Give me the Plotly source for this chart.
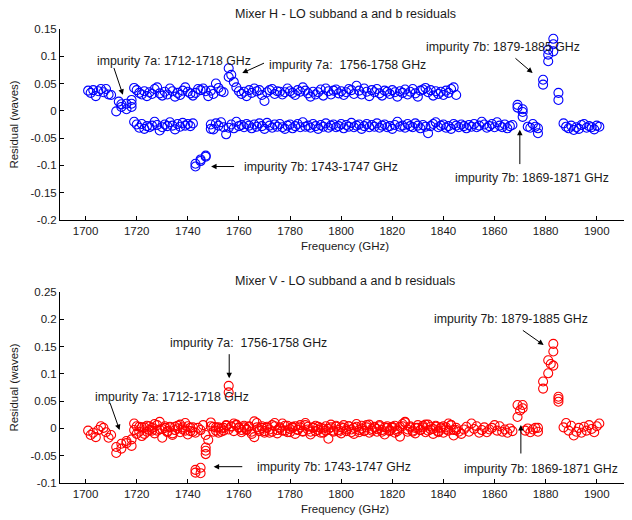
import plotly.graph_objects as go

# ---------------- Mixer H (top) ----------------
h_a_freq = [1701, 1702, 1703, 1704, 1705, 1706, 1707, 1708, 1709, 1710,
            1712, 1713, 1714, 1714, 1716, 1716, 1718, 1718, 1718,
            1719, 1720, 1721, 1722, 1723, 1724, 1725, 1726, 1727, 1728,
            1729, 1730, 1731, 1732, 1733, 1734, 1735, 1736, 1737, 1738,
            1739, 1740, 1741, 1742, 1743, 1744, 1745, 1746, 1747, 1748,
            1749, 1750, 1751, 1752, 1753, 1754,
            1756, 1756, 1757, 1758,
            1759, 1760, 1761, 1762, 1763, 1764, 1765, 1766, 1767, 1768,
            1769, 1770, 1771, 1772, 1773, 1774, 1775, 1776, 1777, 1778,
            1779, 1780, 1781, 1782, 1783, 1784, 1785, 1786, 1787, 1788,
            1789, 1790, 1791, 1792, 1793, 1794, 1795, 1796, 1797, 1798,
            1799, 1800, 1801, 1802, 1803, 1804, 1805, 1806, 1807, 1808,
            1809, 1810, 1811, 1812, 1813, 1814, 1815, 1816, 1817, 1818,
            1819, 1820, 1821, 1822, 1823, 1824, 1825, 1826, 1827, 1828,
            1829, 1830, 1831, 1832, 1833, 1834, 1835, 1836, 1837, 1838,
            1839, 1840, 1841, 1842, 1843, 1844, 1845]
h_a_res = [0.037, 0.033, 0.038, 0.027, 0.036, 0.040, 0.034, 0.040, 0.030, 0.029,
           -0.001, 0.017, 0.007, 0.012, 0.003, 0.013, 0.020, 0.007, 0.013,
           0.042, 0.038, 0.033, 0.030, 0.036, 0.027, 0.034, 0.031, 0.040, 0.043,
           0.032, 0.028, 0.035, 0.030, 0.041, 0.036, 0.026, 0.033, 0.029, 0.037,
           0.043, 0.035, 0.032, 0.028, 0.033, 0.040, 0.038, 0.041, 0.036, 0.027,
           0.037, 0.031, 0.050, 0.042, 0.036, 0.034,
           0.078, 0.062, 0.066, 0.053,
           0.043, 0.036, 0.031, 0.035, 0.027, 0.038, 0.033, 0.041, 0.036, 0.038,
           0.029, 0.018, 0.034, 0.038, 0.040, 0.031, 0.036, 0.035, 0.030, 0.034,
           0.041, 0.036, 0.033, 0.029, 0.038, 0.035, 0.043, 0.037, 0.032, 0.026,
           0.035, 0.030, 0.034, 0.039, 0.028, 0.041, 0.036, 0.030, 0.037, 0.039,
           0.032, 0.036, 0.029, 0.034, 0.040, 0.038, 0.031, 0.046, 0.037, 0.030,
           0.041, 0.035, 0.027, 0.038, 0.034, 0.040, 0.032, 0.028, 0.037, 0.035,
           0.031, 0.038, 0.034, 0.026, 0.036, 0.033, 0.039, 0.030, 0.035, 0.040,
           0.032, 0.026, 0.037, 0.039, 0.042, 0.034, 0.038, 0.028, 0.036, 0.031,
           0.035, 0.029, 0.037, 0.033, 0.040, 0.043, 0.029]

h_b_freq = [1719, 1720, 1721, 1722, 1723, 1724, 1725, 1726, 1727, 1728,
            1729, 1730, 1731, 1732, 1733, 1734, 1735, 1736, 1737, 1738,
            1739, 1740, 1741, 1742,
            1743, 1743, 1745, 1745, 1747, 1747,
            1749, 1749, 1750, 1751, 1752, 1753, 1754, 1755, 1756, 1757, 1758,
            1759, 1760, 1761, 1762, 1763, 1764, 1765, 1766, 1767, 1768,
            1769, 1770, 1771, 1772, 1773, 1774, 1775, 1776, 1777, 1778,
            1779, 1780, 1781, 1782, 1783, 1784, 1785, 1786, 1787, 1788,
            1789, 1790, 1791, 1792, 1793, 1794, 1795, 1796, 1797, 1798,
            1799, 1800, 1801, 1802, 1803, 1804, 1805, 1806, 1807, 1808,
            1809, 1810, 1811, 1812, 1813, 1814, 1815, 1816, 1817, 1818,
            1819, 1820, 1821, 1822, 1823, 1824, 1825, 1826, 1827, 1828,
            1829, 1830, 1831, 1832, 1833, 1834, 1835, 1836, 1837, 1838,
            1839, 1840, 1841, 1842, 1843, 1844, 1845, 1846, 1847, 1848,
            1849, 1850, 1851, 1852, 1853, 1854, 1855, 1856, 1857, 1858,
            1859, 1860, 1861, 1862, 1863, 1864, 1865, 1866, 1867,
            1869, 1869, 1871, 1871, 1871,
            1873, 1874, 1875, 1876, 1877, 1877,
            1879, 1879, 1881, 1881, 1881, 1883, 1883, 1883,
            1885, 1885,
            1887, 1888, 1889, 1890, 1891, 1892, 1893, 1894, 1895, 1896,
            1897, 1898, 1899, 1900, 1901]
h_b_res = [-0.020, -0.025, -0.031, -0.024, -0.033, -0.028, -0.030, -0.027, -0.020, -0.026,
           -0.036, -0.030, -0.025, -0.028, -0.021, -0.027, -0.034, -0.024, -0.029, -0.022,
           -0.027, -0.024, -0.028, -0.023,
           -0.102, -0.097, -0.092, -0.089, -0.084, -0.082,
           -0.025, -0.033, -0.034, -0.023, -0.027, -0.021, -0.030, -0.043, -0.031, -0.025, -0.032,
           -0.020, -0.028, -0.026, -0.030, -0.024, -0.027, -0.032, -0.025, -0.029, -0.023,
           -0.028, -0.033, -0.022, -0.027, -0.031, -0.025, -0.029, -0.024, -0.030, -0.033,
           -0.027, -0.025, -0.032, -0.028, -0.024, -0.030, -0.021, -0.029, -0.027, -0.031,
           -0.024, -0.028, -0.033, -0.026, -0.029, -0.023, -0.031, -0.027, -0.025, -0.030,
           -0.028, -0.024, -0.032, -0.026, -0.029, -0.022, -0.030, -0.027, -0.025, -0.033,
           -0.028, -0.024, -0.030, -0.026, -0.029, -0.023, -0.031, -0.027, -0.025, -0.030,
           -0.028, -0.033, -0.026, -0.020, -0.029, -0.027, -0.031, -0.024, -0.028, -0.030,
           -0.023, -0.027, -0.032, -0.026, -0.029, -0.041, -0.028, -0.024, -0.021, -0.030,
           -0.027, -0.025, -0.031, -0.028, -0.033, -0.024, -0.027, -0.030, -0.025, -0.028,
           -0.032, -0.026, -0.029, -0.024, -0.030, -0.027, -0.020, -0.025, -0.031, -0.028,
           -0.024, -0.030, -0.021, -0.027, -0.030, -0.025, -0.032, -0.028, -0.026,
           0.011, 0.006, 0.003, -0.002, -0.011,
           -0.029, -0.031, -0.024, -0.029, -0.032, -0.041,
           0.057, 0.048, 0.103, 0.091, 0.112, 0.132, 0.122, 0.109,
           0.033, 0.020,
           -0.023, -0.029, -0.032, -0.027, -0.035, -0.030, -0.033, -0.026, -0.024, -0.031,
           -0.028, -0.030, -0.034, -0.027, -0.029]

# ---------------- Mixer V (bottom) ----------------
v_a_freq = [1701, 1702, 1703, 1704, 1705, 1706, 1707, 1708, 1709, 1710,
            1712, 1712, 1714, 1714, 1716, 1716, 1718, 1718,
            1719, 1720, 1721, 1722, 1723, 1724, 1725, 1726, 1727, 1728,
            1729, 1730, 1731, 1732, 1733, 1734, 1735, 1736, 1737, 1738,
            1739, 1740, 1741, 1742, 1743, 1744, 1745, 1746, 1747, 1748,
            1749, 1750, 1751, 1752, 1753, 1754, 1755,
            1756, 1756,
            1757, 1758, 1759, 1760, 1761, 1762, 1763, 1764, 1765, 1766,
            1767, 1768, 1769, 1770, 1771, 1772, 1773, 1774, 1775, 1776,
            1777, 1778, 1779, 1780, 1781, 1782, 1783, 1784, 1785, 1786,
            1787, 1788, 1789, 1790, 1791, 1792, 1793, 1794, 1795, 1796,
            1797, 1798, 1799, 1800, 1801, 1802, 1803, 1804, 1805, 1806,
            1807, 1808, 1809, 1810, 1811, 1812, 1813, 1814, 1815, 1816,
            1817, 1818, 1819, 1820, 1821, 1822, 1823, 1824, 1825, 1826,
            1827, 1828, 1829, 1830, 1831, 1832, 1833, 1834, 1835, 1836,
            1837, 1838, 1839, 1840, 1841, 1842, 1843, 1844, 1845]
v_a_res = [-0.004, -0.012, -0.008, -0.016, -0.003, 0.004, 0.001, -0.007, -0.017, -0.012,
           -0.034, -0.045, -0.028, -0.037, -0.023, -0.027, -0.032, -0.020,
           0.009, 0.004, -0.006, 0.002, -0.010, 0.005, -0.003, 0.001, 0.008, -0.004,
           0.012, -0.001, 0.004, -0.007, 0.002, -0.009, 0.003, 0.000, 0.007, -0.002,
           0.010, 0.004, -0.005, 0.002, -0.008, 0.001, -0.003, 0.006, -0.012, -0.021,
           0.011, 0.003, -0.004, 0.002, -0.006, 0.001, 0.005,
           0.078, 0.066,
           0.004, 0.009, 0.006, 0.002, -0.003, 0.005, -0.001, 0.003, -0.006, 0.013,
           0.010, -0.002, 0.004, -0.005, 0.001, -0.008, 0.006, 0.010, -0.003, 0.002,
           0.009, -0.004, 0.005, -0.007, 0.001, 0.004, -0.002, 0.006, -0.005, 0.010,
           0.003, -0.006, 0.002, 0.005, -0.003, 0.001, -0.008, 0.004, -0.001, 0.007,
           -0.004, 0.003, -0.006, 0.002, 0.006, -0.002, 0.004, -0.007, 0.001, 0.008,
           -0.003, 0.005, -0.005, 0.002, 0.007, -0.004, 0.003, -0.001, 0.006, -0.006,
           0.002, 0.004, -0.003, 0.001, 0.005, -0.005, 0.003, 0.008, 0.011, -0.002,
           0.004, -0.006, 0.001, 0.006, -0.003, 0.002, 0.007, -0.004, 0.003, -0.001,
           0.005, -0.007, 0.002, 0.004, -0.002, 0.009, 0.006, -0.003, 0.001]

v_b_freq = [1719, 1720, 1721, 1722, 1723, 1724, 1725, 1726, 1727, 1728,
            1729, 1730, 1731, 1732, 1733, 1734, 1735, 1736, 1737, 1738,
            1739, 1740, 1741, 1742,
            1743, 1743, 1745, 1745,
            1747, 1747, 1747,
            1749, 1750, 1751, 1752, 1753, 1754, 1755, 1756, 1757, 1758,
            1759, 1760, 1761, 1762, 1763, 1764, 1765, 1766, 1767, 1768,
            1769, 1770, 1771, 1772, 1773, 1774, 1775, 1776, 1777, 1778,
            1779, 1780, 1781, 1782, 1783, 1784, 1785, 1786, 1787, 1788,
            1789, 1790, 1791, 1792, 1793, 1794, 1795, 1796, 1797, 1798,
            1799, 1800, 1801, 1802, 1803, 1804, 1805, 1806, 1807, 1808,
            1809, 1810, 1811, 1812, 1813, 1814, 1815, 1816, 1817, 1818,
            1819, 1820, 1821, 1822, 1823, 1824, 1825, 1826, 1827, 1828,
            1829, 1830, 1831, 1832, 1833, 1834, 1835, 1836, 1837, 1838,
            1839, 1840, 1841, 1842, 1843, 1844, 1845, 1846, 1847, 1848,
            1849, 1850, 1851, 1852, 1853, 1854, 1855, 1856, 1857, 1858,
            1859, 1860, 1861, 1862, 1863, 1864, 1865, 1866, 1867,
            1869, 1869, 1870, 1871, 1871,
            1872, 1873, 1874, 1875, 1876, 1877, 1877,
            1879, 1879, 1881, 1881, 1882, 1883, 1883, 1883,
            1885, 1885, 1885,
            1887, 1888, 1889, 1890, 1891, 1892, 1893, 1894, 1895, 1896,
            1897, 1898, 1899, 1900, 1901]
v_b_res = [-0.003, -0.010, 0.003, -0.014, 0.002, -0.006, 0.004, -0.004, -0.009, 0.006,
           -0.002, -0.017, 0.001, -0.005, 0.003, -0.012, -0.003, 0.005, -0.007, 0.002,
           -0.004, -0.011, 0.001, -0.006,
           -0.076, -0.081, -0.072, -0.082,
           -0.035, -0.041, -0.047,
           0.004, -0.006, 0.002, -0.008, 0.000, -0.004, 0.006, -0.002, 0.003, -0.005,
           0.007, 0.001, -0.007, 0.002, -0.003, 0.004, -0.010, -0.016, 0.002, -0.005,
           0.001, -0.008, 0.003, -0.002, -0.006, 0.004, -0.009, 0.000, -0.004, 0.005,
           -0.007, -0.001, 0.003, -0.010, -0.003, 0.002, -0.006, 0.006, -0.002, -0.011,
           0.001, -0.005, 0.003, -0.008, 0.000, -0.004, -0.019, 0.002, -0.006, 0.005,
           -0.003, -0.009, 0.001, -0.005, 0.004, -0.002, -0.010, 0.003, -0.007, 0.000,
           -0.004, 0.006, -0.008, -0.001, 0.002, -0.006, 0.004, -0.003, -0.011, 0.001,
           -0.005, 0.003, -0.008, -0.002, -0.015, 0.004, 0.012, -0.006, 0.002, -0.004,
           -0.009, 0.001, -0.003, 0.005, -0.007, 0.007, -0.002, -0.010, 0.003, -0.005,
           0.000, -0.008, 0.002, -0.004, 0.006, -0.013, -0.003, -0.006, -0.010, -0.002,
           0.003, -0.006, 0.009, -0.001, 0.004, -0.008, -0.003, 0.002, -0.007, -0.002,
           0.001, 0.006, -0.004, 0.004, -0.006, -0.002, -0.008, 0.000, -0.005,
           0.043, 0.021, 0.033, 0.043, 0.037,
           -0.004, 0.000, -0.007, -0.002, 0.001, -0.006, 0.001,
           0.086, 0.073, 0.125, 0.101, 0.118, 0.155, 0.141, 0.115,
           0.058, 0.049, 0.054,
           0.002, 0.010, -0.004, 0.005, -0.013, -0.006, 0.001, -0.008, 0.003, -0.004,
           0.006, -0.001, -0.007, 0.004, 0.009]

x_ticks = [1700, 1720, 1740, 1760, 1780, 1800, 1820, 1840, 1860, 1880, 1900]
h_y_ticks = [-0.2, -0.15, -0.1, -0.05, 0, 0.05, 0.1, 0.15]
h_y_labels = ["-0.2", "-0.15", "-0.1", "-0.05", "0", "0.05", "0.1", "0.15"]
v_y_ticks = [-0.1, -0.05, 0, 0.05, 0.1, 0.15, 0.2, 0.25]
v_y_labels = ["-0.1", "-0.05", "0", "0.05", "0.1", "0.15", "0.2", "0.25"]

FONT = "Liberation Sans, Arial, sans-serif"
TXT = "#1a1a1a"

fig = go.Figure()

def add_pts(x, y, color, xa, ya):
    fig.add_trace(go.Scatter(
        x=x, y=y, mode="markers", xaxis=xa, yaxis=ya,
        marker=dict(symbol="circle-open", size=9, color=color, line=dict(width=1.1, color=color)),
        showlegend=False, hoverinfo="x+y"))

add_pts(h_a_freq, h_a_res, "#0000ff", "x", "y")
add_pts(h_b_freq, h_b_res, "#0000ff", "x", "y")
add_pts(v_a_freq, v_a_res, "#ff0000", "x2", "y2")
add_pts(v_b_freq, v_b_res, "#ff0000", "x2", "y2")

def xax(anchor):
    return dict(range=[1690, 1913], tickvals=x_ticks, ticks="inside", ticklen=4,
                tickcolor="#000", showline=True, linecolor="#000", linewidth=1,
                showgrid=False, zeroline=False, anchor=anchor,
                tickfont=dict(family=FONT, size=11.5, color=TXT),
                title=dict(text="Frequency (GHz)", font=dict(family=FONT, size=11.5, color=TXT), standoff=6),
                automargin=False, domain=[0, 1])

def yax(anchor, rng, tv, tt, dom):
    return dict(range=rng, tickvals=tv, ticktext=tt, ticks="inside", ticklen=4,
                tickcolor="#000", showline=True, linecolor="#000", linewidth=1,
                showgrid=False, zeroline=False, anchor=anchor, domain=dom,
                tickfont=dict(family=FONT, size=11.5, color=TXT),
                title=dict(text="Residual (waves)", font=dict(family=FONT, size=11.5, color=TXT), standoff=12),
                automargin=False)

# page body has an 8px margin: figure is drawn at (8, 8) in the window
H = 512.0
fig.update_layout(
    width=624, height=512,
    margin=dict(l=52, r=2, t=0, b=0),
    paper_bgcolor="white", plot_bgcolor="white",
    xaxis=xax("y"),
    yaxis=yax("x", [-0.2, 0.15], h_y_ticks, h_y_labels, [1 - 212 / H, 1 - 21 / H]),
    xaxis2=xax("y2"),
    yaxis2=yax("x2", [-0.1, 0.25], v_y_ticks, v_y_labels, [1 - 475 / H, 1 - 284 / H]),
    font=dict(family=FONT, color=TXT),
)

def title(text, ypx):
    fig.add_annotation(text=text, xref="paper", yref="paper", x=0.5, y=1 - ypx / H,
                       showarrow=False, xanchor="center", yanchor="middle",
                       font=dict(family=FONT, size=12.5, color=TXT))

title("Mixer H - LO subband a and b residuals", 6)
title("Mixer V - LO subband a and b residuals", 273)

def note(xr, yr, text, tx, ty, hx, hy, ax, ay):
    fig.add_annotation(text=text, xref=xr, yref=yr, x=tx, y=ty, showarrow=False,
                       xanchor="left", yanchor="middle",
                       font=dict(family=FONT, size=12.3, color=TXT))
    fig.add_annotation(text="", xref=xr, yref=yr, axref=xr, ayref=yr,
                       x=hx, y=hy, ax=ax, ay=ay, showarrow=True,
                       arrowhead=2, arrowsize=1.1, arrowwidth=1, arrowcolor="#000")

# top panel notes
note("x", "y", "impurity 7a: 1712-1718 GHz", 1703.8, 0.0906, 1714.6, 0.0295, 1710.9, 0.0814)
note("x", "y", "impurity 7a:  1756-1758 GHz", 1771.1, 0.0845, 1761.3, 0.0693, 1770.4, 0.0887)
note("x", "y", "impurity 7b: 1743-1747 GHz", 1761.3, -0.102, 1749.1, -0.102, 1758.7, -0.102)
note("x", "y", "impurity 7b: 1879-1885 GHz", 1832.4, 0.1162, 1874.9, 0.0693, 1867.6, 0.0986)
note("x", "y", "impurity 7b: 1869-1871 GHz", 1843.9, -0.1223, 1869.9, -0.0348, 1869.9, -0.1003)

# bottom panel notes
note("x2", "y2", "impurity 7a: 1712-1718 GHz", 1702.9, 0.0581, 1713.3, -0.0029, 1709.4, 0.049)
note("x2", "y2", "impurity 7a:  1756-1758 GHz", 1732.3, 0.157, 1756.2, 0.0919, 1756.2, 0.1388)
note("x2", "y2", "impurity 7b: 1743-1747 GHz", 1766.1, -0.0701, 1750.1, -0.0701, 1761.9, -0.0701)
note("x2", "y2", "impurity 7b: 1879-1885 GHz", 1835.7, 0.2005, 1879.2, 0.1529, 1870.5, 0.1816)
note("x2", "y2", "impurity 7b: 1869-1871 GHz", 1847.4, -0.0749, 1870.3, 0.0063, 1870.3, -0.0487)

fig.write_html("out.html")
